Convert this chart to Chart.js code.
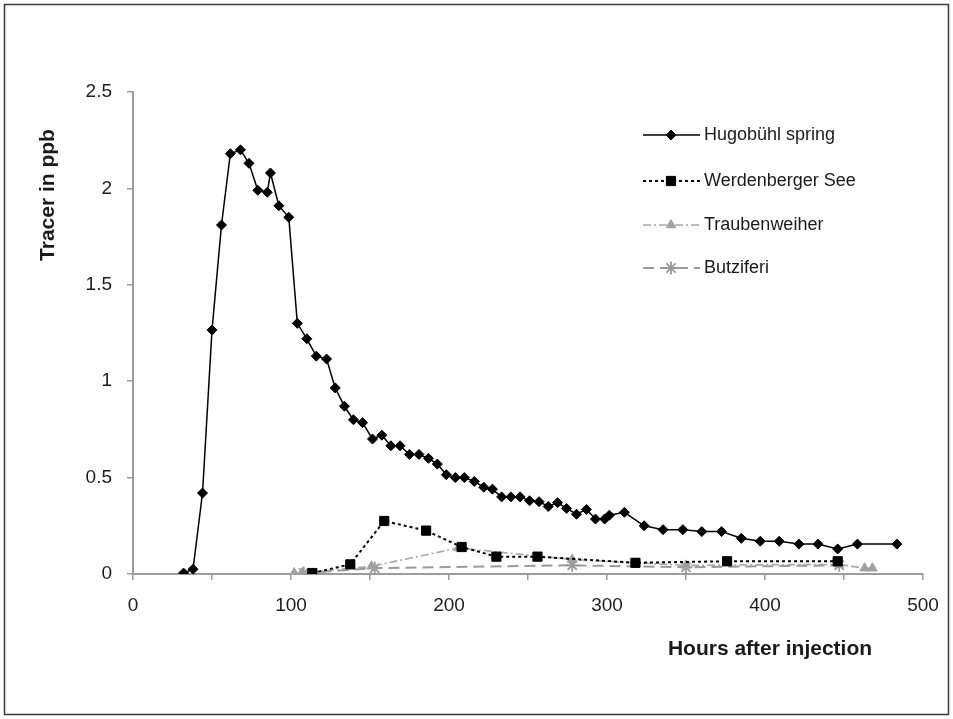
<!DOCTYPE html>
<html>
<head>
  <meta charset="utf-8">
  <title>Tracer in ppb</title>
  <script src="https://cdn.jsdelivr.net/npm/chart.js"></script>
  <style>
    html, body {
      margin: 0;
      padding: 0;
      background: #ffffff;
    }
    #box {
      width: 953px;
      height: 719px;
    }
  </style>
</head>
<body>
  <div id="box"><canvas id="tracer" width="953" height="719"></canvas></div>

  <script>
    // Hugobühl spring
    var hugoHours = [32, 38, 44, 50, 56, 61.6, 68, 73.4, 79, 85, 87, 92.3, 98.6, 104, 110, 116, 122.5, 128, 133.8,
      139.5, 145.3, 151.6, 157.5, 163.2, 169, 175, 181, 187, 192.6, 198.3, 204, 209.7, 216, 222, 227.5, 233.3,
      239.2, 245, 251, 257, 262.8, 268.7, 274.4, 280.7, 287, 292.7, 298.5, 301.5, 311, 323.5, 335.5, 348, 360,
      372.5, 385, 397, 409, 421.5, 433.5, 446, 458.5, 483.5];
    var hugoPpb = [0.005, 0.025, 0.42, 1.265, 1.81, 2.18, 2.2, 2.13, 1.99, 1.98, 2.08, 1.91, 1.85, 1.3, 1.22, 1.13,
      1.115, 0.965, 0.87, 0.8, 0.785, 0.7, 0.72, 0.665, 0.665, 0.62, 0.62, 0.6, 0.57, 0.515, 0.5, 0.5, 0.48, 0.45,
      0.44, 0.4, 0.4, 0.4, 0.38, 0.375, 0.35, 0.37, 0.34, 0.31, 0.335, 0.285, 0.285, 0.305, 0.32, 0.25, 0.23, 0.23,
      0.22, 0.22, 0.185, 0.17, 0.17, 0.155, 0.155, 0.13, 0.155, 0.155];

    // Werdenberger See
    var werdHours = [113.5, 137.5, 159, 185.5, 208, 230, 256, 318, 376, 446];
    var werdPpb = [0.005, 0.05, 0.275, 0.225, 0.14, 0.09, 0.09, 0.058, 0.066, 0.066];

    // Traubenweiher
    var traubHours = [102, 107, 151, 206, 278, 350, 447, 463, 468];
    var traubPpb = [0.005, 0.005, 0.04, 0.135, 0.075, 0.045, 0.05, 0.03, 0.03];

    // Butziferi
    var butzHours = [108, 153, 278, 350, 447];
    var butzPpb = [0.005, 0.03, 0.045, 0.035, 0.045];

    var seriesNames = ['Hugobühl spring', 'Werdenberger See', 'Traubenweiher', 'Butziferi'];
    var yTicks = [0, 0.5, 1, 1.5, 2, 2.5];

    function punkte(xs, ys) {
      return xs.map(function (x, i) { return { x: x, y: ys[i] }; });
    }

    // Rahmen, Achsentitel und Legende
    var extras = {
      id: 'extras',
      afterDraw: function (chart) {
        var ctx = chart.ctx;
        ctx.save();
        ctx.strokeStyle = '#3a3a3a';
        ctx.lineWidth = 1.5;
        ctx.strokeRect(4.5, 4.5, 944, 710);

        ctx.fillStyle = '#1a1a1a';
        ctx.font = 'bold 21px "Liberation Sans", Arial, sans-serif';
        ctx.textAlign = 'center';
        ctx.textBaseline = 'middle';
        ctx.fillText('Hours after injection', 770, 649);
        ctx.translate(48, 195);
        ctx.rotate(-Math.PI / 2);
        ctx.fillText('Tracer in ppb', 0, 0);
        ctx.restore();

        var legY = [135, 181, 225, 268];
        chart.data.datasets.forEach(function (ds, i) {
          var y = legY[i];
          ctx.save();
          ctx.strokeStyle = ds.borderColor;
          ctx.lineWidth = ds.borderWidth;
          ctx.setLineDash(ds.borderDash || []);
          ctx.beginPath();
          ctx.moveTo(643, y);
          ctx.lineTo(700, y);
          ctx.stroke();
          ctx.restore();

          ctx.save();
          ctx.fillStyle = ds.pointBackgroundColor;
          ctx.strokeStyle = ds.pointBorderColor;
          ctx.lineWidth = ds.pointBorderWidth;
          Chart.helpers.drawPoint(ctx, {
            pointStyle: ds.pointStyle,
            radius: ds.pointRadius,
            borderWidth: ds.pointBorderWidth,
            rotation: 0
          }, 671, y);
          ctx.restore();

          ctx.save();
          ctx.fillStyle = '#1a1a1a';
          ctx.font = '18px "Liberation Sans", Arial, sans-serif';
          ctx.textBaseline = 'middle';
          ctx.fillText(ds.label, 704, y);
          ctx.restore();
        });
      }
    };

    var ctx = document.getElementById('tracer').getContext('2d');
    var myChart = new Chart(ctx, {
      type: 'line',
      data: {
        datasets: [{
          label: seriesNames[0],
          data: punkte(hugoHours, hugoPpb),
          borderColor: '#000000',
          borderWidth: 1.5,
          pointStyle: 'rectRot',
          pointRadius: 5,
          pointBackgroundColor: '#000000',
          pointBorderColor: '#000000',
          pointBorderWidth: 1
        }, {
          label: seriesNames[1],
          data: punkte(werdHours, werdPpb),
          borderColor: '#000000',
          borderWidth: 2,
          borderDash: [3, 3],
          pointStyle: 'rect',
          pointRadius: 6.5,
          pointBackgroundColor: '#000000',
          pointBorderColor: '#000000',
          pointBorderWidth: 1
        }, {
          label: seriesNames[2],
          data: punkte(traubHours, traubPpb),
          borderColor: '#a8a8a8',
          borderWidth: 1.6,
          borderDash: [8, 3, 2, 3],
          pointStyle: 'triangle',
          pointRadius: 5.5,
          pointBackgroundColor: '#a0a0a0',
          pointBorderColor: '#a0a0a0',
          pointBorderWidth: 1
        }, {
          label: seriesNames[3],
          data: punkte(butzHours, butzPpb),
          borderColor: '#9a9a9a',
          borderWidth: 2,
          borderDash: [11, 6],
          pointStyle: 'star',
          pointRadius: 6.5,
          pointBackgroundColor: '#9a9a9a',
          pointBorderColor: '#9a9a9a',
          pointBorderWidth: 1.8
        }]
      },
      options: {
        responsive: false,
        animation: false,
        layout: { padding: { top: 92, right: 30, left: 0, bottom: 0 } },
        plugins: {
          legend: { display: false },
          tooltip: { enabled: false }
        },
        scales: {
          x: {
            type: 'linear',
            min: 0,
            max: 500,
            afterFit: function (s) { s.height = 145; },
            border: { display: true, color: '#9c9c9c', width: 2 },
            grid: { drawOnChartArea: false, drawTicks: true, tickLength: 6, tickColor: '#9c9c9c', lineWidth: 1.5 },
            ticks: {
              stepSize: 50,
              padding: 14,
              color: '#1e1e1e',
              font: { family: '"Liberation Sans", Arial, sans-serif', size: 19 },
              maxRotation: 0,
              autoSkip: false,
              callback: function (v) { return v % 100 === 0 ? String(v) : ''; }
            }
          },
          y: {
            min: 0,
            max: 2.5,
            afterFit: function (s) { s.width = 133; },
            afterBuildTicks: function (s) { s.ticks = yTicks.map(function (v) { return { value: v }; }); },
            border: { display: true, color: '#9c9c9c', width: 2 },
            grid: { drawOnChartArea: false, drawTicks: true, tickLength: 6, tickColor: '#9c9c9c', lineWidth: 1.5 },
            ticks: {
              padding: 15,
              color: '#1e1e1e',
              font: { family: '"Liberation Sans", Arial, sans-serif', size: 19 },
              callback: function (v) { return String(v); }
            }
          }
        }
      },
      plugins: [extras]
    });
  </script>
</body>
</html>
